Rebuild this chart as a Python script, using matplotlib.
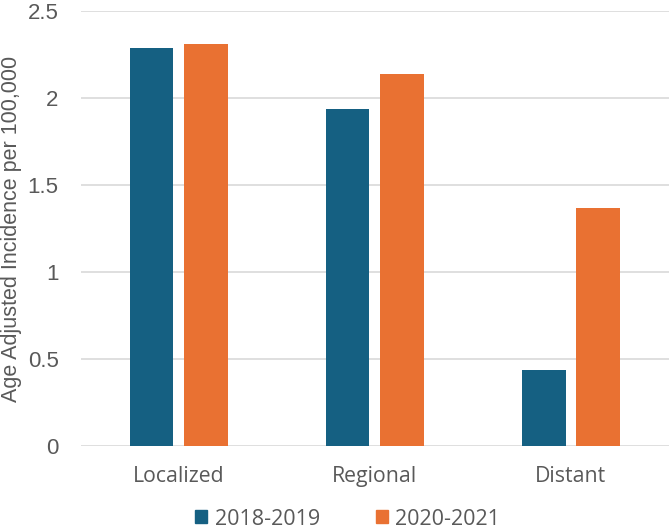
import numpy as np
import matplotlib.pyplot as plt
from matplotlib.patches import Patch

categories = ['Localized', 'Regional', 'Distant']
series_names = ['2018-2019', '2020-2021']
vals_2018 = [2.29, 1.94, 0.44]
vals_2020 = [2.31, 2.14, 1.37]
colors = ['#156082', '#E97132']
yticks = [0, 0.5, 1, 1.5, 2, 2.5]
ytick_labels = ['0', '0.5', '1', '1.5', '2', '2.5']

txt = '#595959'

fig = plt.figure(figsize=(6.69, 5.28), dpi=100)
ax = fig.add_axes([0.121, 0.155, 0.879, 0.824])

x = np.arange(len(categories))
w = 0.224
off = 0.14
ax.bar(x - off, vals_2018, w, color=colors[0], zorder=3)
ax.bar(x + off, vals_2020, w, color=colors[1], zorder=3)

ax.set_xlim(-0.5, 2.5)
ax.set_ylim(0, 2.5)
ax.set_yticks(yticks)
ax.set_yticklabels(ytick_labels, family='Liberation Sans', fontsize=16, color=txt)
ax.set_xticks(x)
ax.set_xticklabels(categories, family='Open Sans', fontsize=15.3, color=txt)
ax.tick_params(axis='both', length=0)
ax.tick_params(axis='y', pad=16)
ax.tick_params(axis='x', pad=14)
ax.grid(axis='y', color='#d9d9d9', linewidth=1.2, zorder=0)
for s in ax.spines.values():
    s.set_visible(False)

ax.set_ylabel('Age Adjusted Incidence per 100,000', family='Liberation Sans',
              fontsize=15.5, color=txt)
ax.yaxis.set_label_coords(-0.100, 0.5)

handles = [Patch(color=c) for c in colors]
fig.legend(handles, series_names, loc='center', bbox_to_anchor=(0.52, 0.017),
           ncol=2, frameon=False, prop={'family': 'Open Sans', 'size': 15.5},
           labelcolor=txt, handlelength=0.55, handleheight=0.55,
           handletextpad=0.35, columnspacing=2.6)

fig.savefig('out.png', dpi=100)
